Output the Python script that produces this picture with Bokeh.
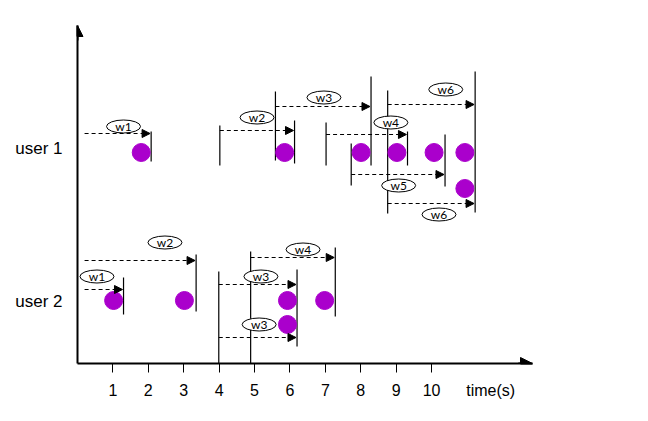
from bokeh.plotting import figure
from bokeh.models import Range1d, FixedTicker, Arrow, NormalHead, ColumnDataSource
from bokeh.embed import file_html
from bokeh.resources import INLINE
from bokeh.core.properties import value

# ---------------- data ----------------
time_ticks = [1, 2, 3, 4, 5, 6, 7, 8, 9, 10]
time_label = "time(s)"
time_label_pos = 11.67
user_names = ["user 1", "user 2"]
user_rows = [215, 62]

# events (purple dots): time and lane height
event_t = [1.80, 5.85, 8.01, 9.02, 10.07, 10.94, 10.94, 1.02, 3.02, 5.93, 6.98, 5.93]
event_y = [211, 211, 211, 211, 211, 211, 175, 63, 63, 63, 63, 39]

# window boundaries (vertical lines)
bound_t = [2.08, 4.02, 6.13, 5.59, 8.29, 7.02, 9.32, 8.76, 11.23, 7.73, 10.38,
           1.30, 3.35, 3.99, 6.20, 4.89, 7.28]
bound_lo = [202, 198, 200, 203, 198, 198, 198, 150, 151, 178, 177,
            49, 52, 0, 17, -2, 47]
bound_hi = [232, 238, 243, 272, 287, 241, 232, 273, 292, 220, 229,
            86, 109, 92, 94, 112, 116]

# windows (dashed arrows + labels)
win_name = ["w1", "w2", "w3", "w4", "w6", "w5", "w6", "w1", "w2", "w3", "w4", "w3"]
win_start = [0.20, 4.02, 5.59, 7.02, 8.76, 7.73, 8.76, 0.20, 0.20, 3.99, 4.89, 3.99]
win_end = [2.08, 6.13, 8.29, 9.32, 11.23, 10.38, 11.23, 1.30, 3.35, 6.20, 7.28, 6.20]
win_y = [230, 233, 257, 229, 259, 189, 160, 74, 103, 79, 106, 26]
label_t = [1.30, 5.07, 6.96, 8.85, 10.40, 9.07, 10.21, 0.55, 2.47, 5.18, 6.37, 5.13]
label_y = [237, 246, 266, 241, 274, 178, 149, 87, 121, 87, 114, 39]

X0, X1 = 0.0, 12.85
Y0, Y1 = 0, 338

p = figure(width=640, height=413, x_range=Range1d(X0, X1), y_range=Range1d(Y0, Y1),
           output_backend="svg", toolbar_location=None,
           min_border_left=77, min_border_right=108, min_border_top=25, min_border_bottom=50)
p.grid.visible = False
p.outline_line_color = None
p.background_fill_color = "white"

# x axis: tick marks as minor ticks at the integer times, labels (incl. "time(s)") as majors
xa = p.xaxis[0]
xa.ticker = FixedTicker(ticks=time_ticks + [time_label_pos], minor_ticks=time_ticks)
xa.major_label_overrides = {time_label_pos: time_label}
xa.axis_line_width = 2
xa.axis_line_color = "black"
xa.major_tick_out = 0
xa.major_tick_in = 0
xa.minor_tick_out = 9
xa.minor_tick_in = 0
xa.minor_tick_line_color = "black"
xa.minor_tick_line_width = 1
xa.major_label_text_font = "Liberation Sans"
xa.major_label_text_font_size = "16px"
xa.major_label_text_color = "black"
xa.major_label_standoff = 9

ya = p.yaxis[0]
ya.ticker = FixedTicker(ticks=user_rows)
ya.major_label_overrides = {r: n for r, n in zip(user_rows, user_names)}
ya.axis_line_width = 2
ya.axis_line_color = "black"
ya.major_tick_out = 0
ya.major_tick_in = 0
ya.minor_tick_out = 0
ya.minor_tick_in = 0
ya.major_label_text_font = "Liberation Sans"
ya.major_label_text_font_size = "17px"
ya.major_label_text_color = "black"
ya.major_label_standoff = 15

# vertical boundary lines
p.segment(x0=bound_t, y0=bound_lo, x1=bound_t, y1=bound_hi, line_color="black", line_width=1.2)

# dashed window arrows
src = ColumnDataSource(dict(x0=win_start, x1=[e - 0.03 for e in win_end], y=win_y))
p.add_layout(Arrow(end=NormalHead(size=8, fill_color="black", line_color="black"),
                   x_start="x0", y_start="y", x_end="x1", y_end="y", source=src,
                   line_dash="4 3", line_width=1, line_color="black"))

# events
p.scatter(event_t, event_y, size=18, fill_color="#AA00CC", line_color="#AA00CC")

# window labels
p.ellipse(x=label_t, y=label_y, width=34, height=13, width_units="screen", height_units="screen",
          fill_color="white", line_color="black", line_width=1)
p.text(x=label_t, y=label_y, text=win_name, text_align="center", text_baseline="middle",
       text_font=value("Lato"), text_font_size="12px", text_color="black")

# axis arrow heads
p.add_layout(Arrow(end=NormalHead(size=11, fill_color="black", line_color="black"),
                   x_start=X0, y_start=Y1 - 15, x_end=X0, y_end=Y1, line_width=2, line_color="black"))
p.add_layout(Arrow(end=NormalHead(size=12, fill_color="black", line_color="black"),
                   x_start=X1 - 0.4, y_start=Y0, x_end=X1, y_end=Y0, line_width=2, line_color="black"))

open("out.html", "w").write(file_html(p, INLINE))
